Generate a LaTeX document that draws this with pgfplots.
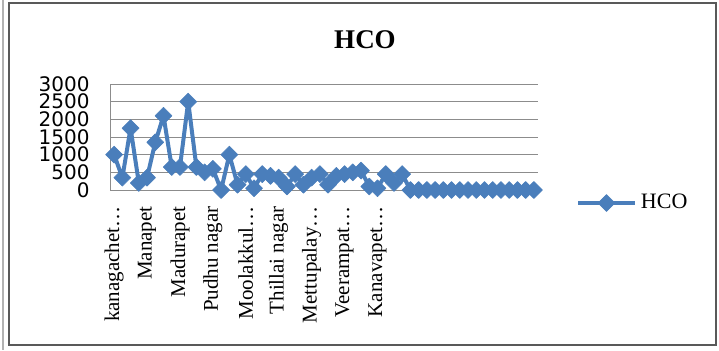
\documentclass[border=0pt]{standalone}
\usepackage{fontspec}
\setmainfont{Liberation Serif}
\newfontfamily\dejavu{DejaVu Sans}
\usepackage{pgfplots}
\pgfplotsset{compat=1.18}
\definecolor{hco}{RGB}{74,126,187}
\definecolor{gridc}{RGB}{140,140,140}
\begin{document}
\begin{tikzpicture}
\path[use as bounding box] (0,0) rectangle (359.5pt,-175pt);
\draw[gray!60, line width=0.8pt] (1.5pt,0) -- (1.5pt,-175pt);
\draw[gray!70!black, line width=0.7pt] (4.5pt,-1.5pt) rectangle (358pt,-172.5pt);
\node[font=\bfseries\fontsize{13.5}{13.5}\selectfont] at (182.5pt,-20pt) {HCO};
\begin{axis}[
  at={(55pt,-95pt)}, anchor=south west,
  scale only axis, width=214pt, height=53pt,
  xmin=0.5, xmax=52.5, ymin=0, ymax=3000,
  axis lines*=left,
  axis line style={gridc, line width=0.5pt, -},
  ytick={0,500,1000,1500,2000,2500,3000},
  ymajorgrids, grid style={gridc, line width=0.5pt},
  ytick style={draw=none}, xtick style={draw=none},
  /pgf/number format/assume math mode=true,
  /pgf/number format/1000 sep={},
  yticklabel style={font=\dejavu\fontsize{10}{10}\selectfont, xshift=-10pt, inner sep=0pt},
  xtick={1,5,9,13,17,21,25,29,33},
  xticklabels={kanagachet…,Manapet,Madurapet,Pudhu nagar,Moolakkul…,Thillai nagar,Mettupalay…,Veerampat…,Kanavapet…},
  xticklabel style={rotate=90, anchor=east, inner sep=0pt, font=\fontsize{10.5}{10.5}\selectfont},
  xticklabel shift=8pt,
  clip=false,
  legend style={at={(1.074,-0.123)}, anchor=west, draw=none, fill=none, font=\fontsize{11}{11}\selectfont, legend cell align=left},
  legend image code/.code={
    \draw[#1, mark repeat=2, mark phase=2] plot coordinates {(0cm,0cm) (0.5cm,0cm) (1cm,0cm)};
  },
]
\addplot[hco, line width=2pt, line join=round, mark=square*, mark size=3pt, mark options={rotate=45, solid, fill=hco, draw=hco, line width=0.3pt}] coordinates {
(1,1000) (2,350) (3,1750) (4,200) (5,350) (6,1350) (7,2100) (8,650) (9,650) (10,2500)
(11,650) (12,500) (13,600) (14,0) (15,1000) (16,150) (17,450) (18,50) (19,450) (20,400)
(21,350) (22,100) (23,450) (24,150) (25,350) (26,450) (27,150) (28,400) (29,450) (30,500)
(31,550) (32,100) (33,50) (34,450) (35,200) (36,450) (37,0) (38,0) (39,0) (40,0)
(41,0) (42,0) (43,0) (44,0) (45,0) (46,0) (47,0) (48,0) (49,0) (50,0)
(51,0) (52,0)
};
\addlegendentry{HCO}
\end{axis}
\end{tikzpicture}
\end{document}
